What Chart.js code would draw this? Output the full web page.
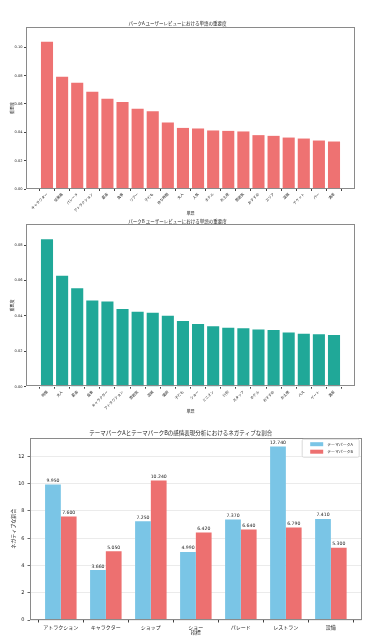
<!DOCTYPE html>
<html><head><meta charset="utf-8">
<script src="https://cdn.jsdelivr.net/npm/chart.js@4/dist/chart.umd.min.js"></script>
<style>
html,body{margin:0;padding:0;background:#fff;width:381px;height:644px;overflow:hidden}
canvas{position:absolute;left:0}
</style></head><body>
<canvas id="c1" width="381" height="216" style="top:0"></canvas>
<canvas id="c2" width="381" height="200" style="top:216px"></canvas>
<canvas id="c3" width="381" height="228" style="top:416px"></canvas>
<script>
// ---- data ----
const titleA = "パークA ユーザーレビューにおける単語の重要度";
const wordsA = ["キャラクター","従業員","パレード","アトラクション","最高","食事","ツアー","子ども","待ち時間","大人","人気","ホテル","お土産","雰囲気","おすすめ","エリア","混雑","チケット","バー","満足"];
const importanceA = [0.1039,0.0792,0.0749,0.0686,0.0636,0.0613,0.0566,0.0549,0.0469,0.0431,0.0427,0.0413,0.0410,0.0406,0.0380,0.0375,0.0363,0.0356,0.0342,0.0335];

const titleB = "パークB ユーザーレビューにおける単語の重要度";
const wordsB = ["時間","大人","最高","食事","キャラクター","アトラクション","雰囲気","混雑","値段","子ども","ショー","ミニオン","行列","スタッフ","ホテル","おすすめ","お土産","パス","ゲート","満足"];
const importanceB = [0.0834,0.0627,0.0556,0.0487,0.0481,0.0439,0.0424,0.0418,0.0401,0.0371,0.0354,0.0341,0.0333,0.0330,0.0324,0.0320,0.0307,0.0299,0.0296,0.0292];

const title3 = "テーマパークAとテーマパークBの感情表現分析におけるネガティブな割合";
const indicators = ["アトラクション","キャラクター","ショップ","ショー","パレード","レストラン","設備"];
const parkA = [9.95,3.66,7.25,4.99,7.37,12.74,7.41];
const parkB = [7.60,5.05,10.24,6.42,6.64,6.79,5.30];
const seriesNames = ["テーマパークA","テーマパークB"];

const JP = "'Noto Sans CJK JP','DejaVu Sans',sans-serif";
const NUM = "'DejaVu Sans','Noto Sans CJK JP',sans-serif";
const TXT = '#222';

const framePlugin = {
  id:'frame',
  afterDatasetsDraw(chart){
    const {ctx, chartArea:a} = chart;
    ctx.save();
    ctx.strokeStyle = '#8a8a8a';
    ctx.lineWidth = 1;
    ctx.strokeRect(Math.round(a.left)+0.5, Math.round(a.top)+0.5, Math.round(a.right-a.left)-1, Math.round(a.bottom-a.top)-1);
    ctx.restore();
  }
};

function fixW(w){ return s => { s.width = w; s.paddingTop=0; s.paddingBottom=0; s.paddingLeft=0; s.paddingRight=0; }; }
function fixH(h){ return s => { s.height = h; s.paddingTop=0; s.paddingBottom=0; s.paddingLeft=0; s.paddingRight=0; }; }

function wordChart(id, title, words, vals, color, ymax, titlePad, xH, xTitlePad, rightPad){
  new Chart(document.getElementById(id), {
    type:'bar',
    data:{ datasets:[{ data: vals.map((v,i)=>({x:i,y:v})), backgroundColor:color, borderWidth:0,
      categoryPercentage:0.8, barPercentage:1.0 }] },
    options:{
      responsive:false, animation:false,
      layout:{ padding:{left:0,right:rightPad,top:0,bottom:0} },
      plugins:{
        legend:{display:false}, tooltip:{enabled:false},
        title:{ display:true, text:title, color:TXT, font:{family:JP,size:4.5,weight:'normal'}, padding:titlePad }
      },
      scales:{
        x:{ type:'linear', min:-1.39, max:20.39, offset:false,
          afterBuildTicks: s => { s.ticks = words.map((_,i)=>({value:i})); },
          afterFit: fixH(xH),
          grid:{ drawOnChartArea:false, drawTicks:true, tickLength:2, color:'#444' },
          border:{ display:false },
          ticks:{ autoSkip:false, maxRotation:45, minRotation:45, padding:1, color:TXT,
            font:{family:JP,size:3.6}, callback:(v)=>words[v] },
          title:{ display:true, text:'単語', color:TXT, font:{family:JP,size:4}, padding:{top:xTitlePad,bottom:xTitlePad} }
        },
        y:{ min:0, max:ymax,
          afterBuildTicks: s => { const t=[]; for(let v=0; v<=ymax+1e-9; v+=0.02) t.push({value:+v.toFixed(2)}); s.ticks=t; },
          afterFit: fixW(26),
          grid:{ drawOnChartArea:false, drawTicks:true, tickLength:2, color:'#444' },
          border:{ display:false },
          ticks:{ padding:1.5, color:TXT, font:{family:NUM,size:3.6}, callback:v=>v.toFixed(2) },
          title:{ display:true, text:'重要度', color:TXT, font:{family:JP,size:4}, padding:{top:9.6,bottom:9.6} }
        }
      }
    },
    plugins:[framePlugin]
  });
}

wordChart('c1', titleA, wordsA, importanceA, '#ee7272', 0.1143, {top:20.6,bottom:1}, 27, 0.6, 26);
wordChart('c2', titleB, wordsB, importanceB, '#20a898', 0.0918, {top:2.3,bottom:0.6}, 29.3, 2.6, 26);

// ---- chart 3 ----
const valueLabels = {
  id:'valueLabels',
  afterDatasetsDraw(chart){
    const {ctx} = chart;
    ctx.save();
    ctx.fillStyle = TXT;
    ctx.font = "4.6px " + NUM;
    ctx.textAlign = 'center';
    ctx.textBaseline = 'bottom';
    chart.data.datasets.forEach((ds, di) => {
      chart.getDatasetMeta(di).data.forEach((bar, i) => {
        ctx.fillText(ds.data[i].y.toFixed(3), bar.x, bar.y - 1.5);
      });
    });
    ctx.restore();
  }
};
const boxLegend = {
  id:'boxLegend',
  afterDraw(chart){
    const {ctx, chartArea:a} = chart;
    const w = 57, h = 18;
    const x0 = a.right - w - 2.5, y0 = a.top + 1.5;
    ctx.save();
    ctx.fillStyle = 'rgba(255,255,255,0.85)';
    ctx.strokeStyle = '#d0d0d0';
    ctx.lineWidth = 0.8;
    ctx.beginPath();
    ctx.roundRect(x0, y0, w, h, 1.5);
    ctx.fill(); ctx.stroke();
    ctx.font = "3.9px " + JP;
    ctx.textBaseline = 'middle';
    ctx.textAlign = 'left';
    chart.data.datasets.forEach((ds, i) => {
      const cy = y0 + 5 + i*7.5;
      ctx.fillStyle = ds.backgroundColor;
      ctx.fillRect(x0 + 8, cy - 2, 13, 4);
      ctx.fillStyle = TXT;
      ctx.fillText(ds.label, x0 + 25, cy);
    });
    ctx.restore();
  }
};

new Chart(document.getElementById('c3'), {
  type:'bar',
  data:{ datasets:[
    { label:seriesNames[0], data:parkA.map((v,i)=>({x:i,y:v})), backgroundColor:'#7ac5e6', borderWidth:0, categoryPercentage:0.7, barPercentage:1.0 },
    { label:seriesNames[1], data:parkB.map((v,i)=>({x:i,y:v})), backgroundColor:'#ed7070', borderWidth:0, categoryPercentage:0.7, barPercentage:1.0 }
  ]},
  options:{
    responsive:false, animation:false,
    layout:{ padding:{left:0,right:19.3,top:0,bottom:0} },
    plugins:{
      legend:{display:false}, tooltip:{enabled:false},
      title:{ display:true, text:title3, color:TXT, font:{family:JP,size:5.5,weight:'normal'}, padding:{top:14,bottom:1.1} }
    },
    scales:{
      x:{ type:'linear', min:-0.685, max:6.685, offset:false,
        afterBuildTicks: s => { s.ticks = indicators.map((_,i)=>({value:i})); },
        afterFit: fixH(24),
        grid:{ drawOnChartArea:false, drawTicks:true, tickLength:2.5, color:'#444' },
        border:{ display:false },
        ticks:{ autoSkip:false, maxRotation:0, minRotation:0, padding:1.5, color:TXT,
          font:{family:JP,size:5}, callback:(v)=>indicators[v] },
        title:{ display:true, text:'指標', color:TXT, font:{family:JP,size:5}, padding:{top:8.5,bottom:8.5} }
      },
      y:{ min:0, max:13.377,
        afterBuildTicks: s => { s.ticks = [0,2,4,6,8,10,12].map(v=>({value:v})); },
        afterFit: fixW(30),
        grid:{ drawOnChartArea:true, drawTicks:true, tickLength:2.5, color:'rgba(0,0,0,0.1)', tickColor:'#444', lineWidth:0.8 },
        border:{ display:false },
        ticks:{ padding:3, color:TXT, font:{family:NUM,size:5}, callback:v=>String(v) },
        title:{ display:true, text:'ネガティブな割合', color:TXT, font:{family:JP,size:5}, padding:{top:9.7,bottom:9.7} }
      }
    }
  },
  plugins:[framePlugin, valueLabels, boxLegend]
});
</script>
</body></html>
